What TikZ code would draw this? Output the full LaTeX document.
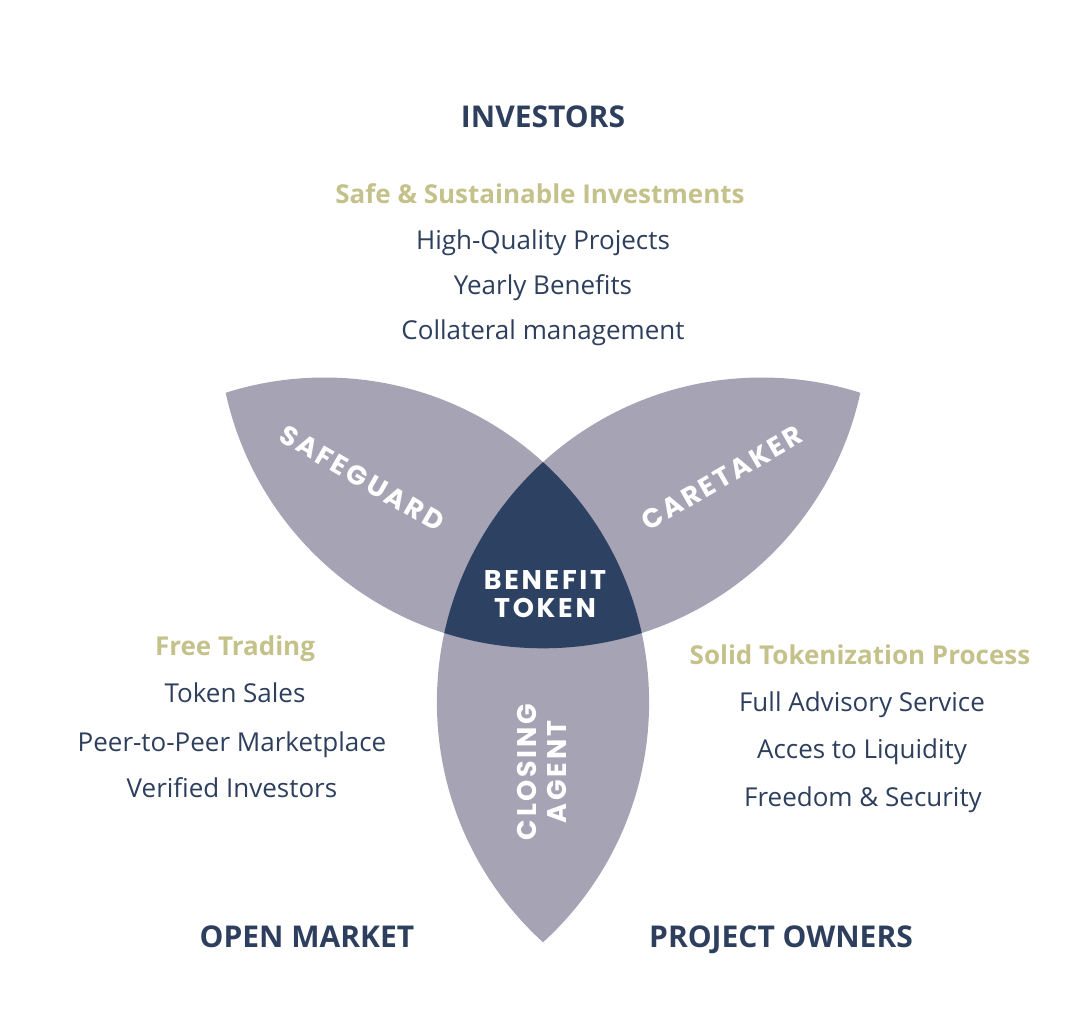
\documentclass[tikz,border=0pt]{standalone}
\usepackage{fontspec}
\setmainfont{Open Sans}
\newfontfamily\petalfont{Poppins}[LetterSpace=10]
\usetikzlibrary{calc}
\definecolor{navy}{HTML}{2E3F5E}
\definecolor{olive}{HTML}{C4C28A}
\definecolor{petal}{HTML}{A5A3B4}
\definecolor{core}{HTML}{2D4262}
\begin{document}
\begin{tikzpicture}[x=1pt,y=-1pt,
  head/.style={text=navy,font=\fontsize{30}{34}\selectfont\bfseries,text height=21.5pt,text depth=0pt},
  sub/.style={text=olive,font=\fontsize{26}{30}\selectfont\bfseries,text height=18.6pt,text depth=0pt},
  item/.style={text=navy,font=\fontsize{26}{30}\selectfont,text height=18.6pt,text depth=0pt},
  leaf/.style={text=white,font=\petalfont\fontsize{27}{28}\selectfont\bfseries,align=center}]
\useasboundingbox (0,0) rectangle (1088,1028);
% circle centres, radius 324.7
\coordinate (ct) at (543,323.6);
\coordinate (cl) at (324.4,702.2);
\coordinate (cr) at (761.6,702.2);
\def\rad{324.7pt}
% petals
\begin{scope}
\clip (ct) circle (\rad);
\fill[petal] (cl) circle (\rad);
\fill[petal] (cr) circle (\rad);
\end{scope}
\begin{scope}
\clip (cl) circle (\rad);
\fill[petal] (cr) circle (\rad);
\end{scope}
% core
\begin{scope}
\clip (ct) circle (\rad);
\clip (cl) circle (\rad);
\fill[core] (cr) circle (\rad);
\end{scope}
\node[leaf,rotate=-30] (safeguard) at (362,478) {SAFEGUARD};
\node[leaf,rotate=30] (caretaker) at (722,478) {CARETAKER};
\node[leaf] (token) at (545,594) {BENEFIT\\TOKEN};
\node[leaf,rotate=90] (closing) at (542,772) {CLOSING\\[2pt]AGENT};
% investors
\node[head] (investors) at (543,117) {INVESTORS};
\node[sub] (safe) at (540,194) {Safe \& Sustainable Investments};
\node[item] (quality) at (543,240) {High-Quality Projects};
\node[item] (yearly) at (543,285) {Yearly Benefits};
\node[item] (collateral) at (543,330) {Collateral management};
% open market
\node[sub] (free) at (235,646) {Free Trading};
\node[item] (sales) at (235,693) {Token Sales};
\node[item] (peer) at (232,742) {Peer-to-Peer Marketplace};
\node[item] (verified) at (232,788) {Verified Investors};
\node[head] (market) at (307,937) {OPEN MARKET};
% project owners
\node[sub] (solid) at (860,655) {Solid Tokenization Process};
\node[item] (advisory) at (862,702) {Full Advisory Service};
\node[item] (liquidity) at (862,749) {Acces to Liquidity};
\node[item] (freedom) at (863,797) {Freedom \& Security};
\node[head] (owners) at (781,937) {PROJECT OWNERS};
\end{tikzpicture}
\end{document}
